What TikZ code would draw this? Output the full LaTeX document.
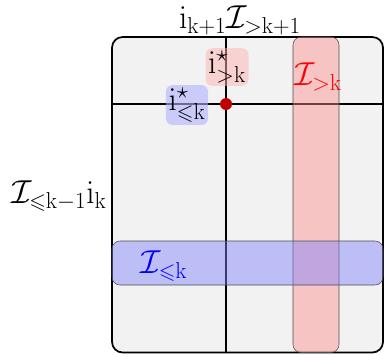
\documentclass[tikz,border=0pt]{standalone}
\usepackage{amsmath,amssymb}
\usetikzlibrary{positioning, calc}

\newcommand{\ri}{\mathrm{i}}
\newcommand{\rk}{\mathrm{k}}
\tikzset{
  lbl/.style={font=\fontsize{23}{27}\selectfont, inner sep=1pt},
  tagbox/.style={lbl, rounded corners=5pt, inner sep=2pt},
  band/.style={draw=black!70, rounded corners=6pt, fill opacity=0.45},
}

\begin{document}
\begin{tikzpicture}[x=0.75pt, y=-0.75pt]
  \useasboundingbox (0,0) rectangle (384,354);
  % fond de la matrice
  \draw[fill=gray!10, line width=1.3pt, rounded corners=8pt] (112,37) rectangle (383,352.5);
  % lignes de pivot
  \draw[line width=1.7pt] (226,37) -- (226,352.5);
  \draw[line width=1.7pt] (112,104) -- (383,104);
  % bandes
  \draw[band, fill=red!45] (293,37) rectangle (339,352.5);
  \draw[band, fill=blue!50] (112,241) rectangle (383,285);
  % pivot
  \fill[red!75!black] (226,104) circle (6);
  % etiquettes
  \node[lbl] (top) at (240,20) {$\ri_{\rk+1}\mathcal{I}_{>\rk+1}$};
  \node[lbl, anchor=east] (left) at (108,196) {$\mathcal{I}_{\leqslant \rk-1}\ri_\rk$};
  \node[lbl, text=red] (colI) at (318,77) {$\mathcal{I}_{>\rk}$};
  \node[lbl, text=blue] (rowI) at (164,266) {$\mathcal{I}_{\leqslant \rk}$};
  \node[tagbox, fill=red!30, fill opacity=0.5, text opacity=1] (istarg) at (227,67) {$\ri^\star_{>\rk}$};
  \node[tagbox, fill=blue!30, fill opacity=0.6, text opacity=1] (istarl) at (187,105) {$\ri^\star_{\leqslant \rk}$};
\end{tikzpicture}
\end{document}
